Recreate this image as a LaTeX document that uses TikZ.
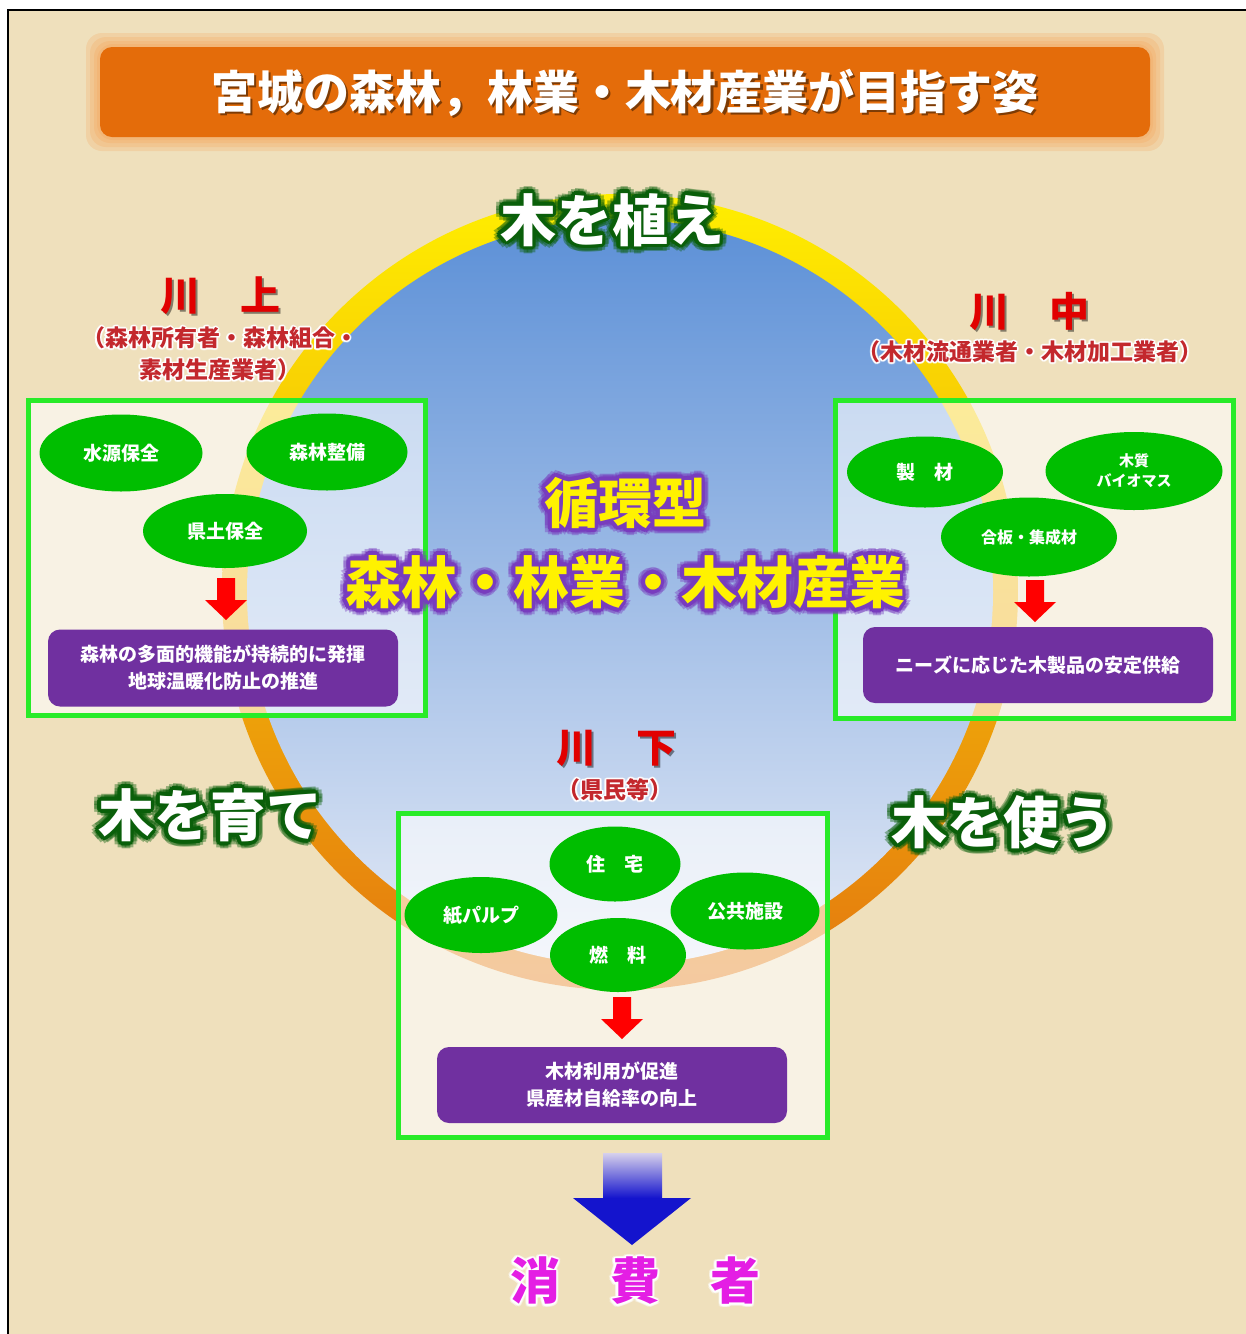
\documentclass[tikz,border=0pt]{standalone}
\usepackage{fontspec}
\newfontfamily\jpfont{Noto Sans CJK JP}
\usetikzlibrary{shapes.geometric,calc}

\definecolor{parchment}{RGB}{239,224,188}
\definecolor{titleorange}{RGB}{228,108,10}
\definecolor{titleglow}{RGB}{246,160,80}
\definecolor{ringyellow}{RGB}{255,238,0}
\definecolor{ringgold}{RGB}{246,182,20}
\definecolor{ringorange}{RGB}{228,120,15}
\definecolor{skytop}{RGB}{92,144,215}
\definecolor{skymid}{RGB}{165,190,230}
\definecolor{skybottom}{RGB}{228,234,246}
\definecolor{leafgreen}{RGB}{0,190,0}
\definecolor{zonegreen}{RGB}{40,235,40}
\definecolor{goalpurple}{RGB}{112,48,160}
\definecolor{riverred}{RGB}{225,0,0}
\definecolor{subred}{RGB}{195,40,45}
\definecolor{glowgreen}{RGB}{10,95,10}
\definecolor{glowpurple}{RGB}{120,60,190}
\definecolor{flowblue}{RGB}{20,20,205}
\definecolor{flowfade}{RGB}{214,208,236}
\definecolor{consumer}{RGB}{228,30,228}

\newcommand\jpsize[2]{\jpfont\bfseries\fontsize{#1}{#2}\selectfont}

\tikzset{
  bubble/.style={ellipse, fill=leafgreen, text=white, inner sep=0pt,
    font=\jpsize{19}{22}, align=center},
  goal/.style={rounded corners=12pt, fill=goalpurple, text=white, align=center,
    inner sep=0pt, font=\jpsize{19}{27}},
  zone/.style={draw=zonegreen, line width=5pt, fill=white, fill opacity=0.6},
  glowcopy/.style={inner sep=0pt, align=center},
  redarrow/.pic={\fill[red] (-9,0) -- (9,0) -- (9,22) -- (21,22) -- (0,42)
    -- (-21,22) -- (-9,22) -- cycle;}
}

% name, position, glow colour, glow radius, text colour, font, text
\newcommand\glowtext[7]{%
  \foreach \a in {0,30,...,330}
    \node[glowcopy, font=#6, text=#3, text opacity=0.4] at ($(#2)+(\a:#4)$) {#7};
  \foreach \a in {15,45,...,345}
    \node[glowcopy, font=#6, text=#3] at ($(#2)+(\a:#4*0.55)$) {#7};
  \node[glowcopy, font=#6, text=#5] (#1) at (#2) {#7};}

% name, position, text colour, font, text
\newcommand\shadowtext[5]{%
  \node[glowcopy, font=#4, text=black, text opacity=0.45] at ($(#2)+(2,2)$) {#5};
  \node[glowcopy, font=#4, text=#3] (#1) at (#2) {#5};}

\begin{document}
\begin{tikzpicture}[x=1pt, y=-1pt]
  \useasboundingbox (0,0) rectangle (1246,1334);
  \fill[white] (0,0) rectangle (1246,1334);
  \fill[parchment] (8,10) rectangle (1246,1334);
  \draw[line width=2pt] (8,1334) -- (8,10) -- (1246,10);

  % title bar
  \foreach \g in {14,10,6,3}
    \fill[titleglow, opacity=0.22, rounded corners=16pt]
      (100-\g,47-\g) rectangle (1150+\g,137+\g);
  \fill[titleorange, rounded corners=12pt] (100,47) rectangle (1150,137);
  \shadowtext{title}{625,93}{white}{\jpsize{46}{46}}{宮城の森林，林業・木材産業が目指す姿}

  % the cycle
  \shade[top color=ringyellow, middle color=ringgold, bottom color=ringorange]
    (620,592) circle (398pt);
  \shade[top color=skytop, middle color=skymid, bottom color=skybottom]
    (620,592) circle (373pt);

  \glowtext{plant}{612,220}{glowgreen}{7pt}{white}{\jpsize{56}{56}}{木を植え}
  \glowtext{grow}{210,815}{glowgreen}{7pt}{white}{\jpsize{56}{56}}{木を育て}
  \glowtext{use}{1003,822}{glowgreen}{7pt}{white}{\jpsize{56}{56}}{木を使う}

  % river heads
  \shadowtext{upper}{220,296}{riverred}{\jpsize{40}{40}}{川　上}
  \glowtext{uppersub}{220,354}{white}{2pt}{subred}{\jpsize{23}{32}}{（森林所有者・森林組合・\\素材生産業者）}
  \shadowtext{middle}{1029,311}{riverred}{\jpsize{40}{40}}{川　中}
  \glowtext{middlesub}{1030,352}{white}{2pt}{subred}{\jpsize{23}{32}}{（木材流通業者・木材加工業者）}
  \shadowtext{lower}{616,748}{riverred}{\jpsize{40}{40}}{川　下}
  \glowtext{lowersub}{615,790}{white}{2pt}{subred}{\jpsize{23}{32}}{（県民等）}

  % upstream
  \draw[zone] (28,400) rectangle (425,715);
  \node[bubble, minimum width=163pt, minimum height=77pt] (water) at (121,453) {水源保全};
  \node[bubble, minimum width=161pt, minimum height=77pt] (forestcare) at (327,452) {森林整備};
  \node[bubble, minimum width=164pt, minimum height=74pt] (landcare) at (225,531) {県土保全};
  \pic at (226,578) {redarrow};
  \node[goal, minimum width=350pt, minimum height=77pt] (goalup) at (223,668)
    {森林の多面的機能が持続的に発揮\\地球温暖化防止の推進};

  % midstream
  \draw[zone] (835,400) rectangle (1233,718);
  \node[bubble, minimum width=156pt, minimum height=71pt] (sawmill) at (925,472) {製　材};
  \node[bubble, minimum width=177pt, minimum height=78pt, font=\jpsize{15}{20}]
    (biomass) at (1134,471) {木質\\バイオマス};
  \node[bubble, minimum width=176pt, minimum height=79pt, font=\jpsize{16}{20}]
    (plywood) at (1029,537) {合板・集成材};
  \pic at (1035,580) {redarrow};
  \node[goal, minimum width=350pt, minimum height=76pt] (goalmid) at (1038,665)
    {ニーズに応じた木製品の安定供給};

  % downstream
  \draw[zone] (398,813) rectangle (827,1137);
  \node[bubble, minimum width=131pt, minimum height=75pt] (housing) at (615,864) {住　宅};
  \node[bubble, minimum width=153pt, minimum height=76pt] (pulp) at (481,915) {紙パルプ};
  \node[bubble, minimum width=149pt, minimum height=77pt] (public) at (745,911) {公共施設};
  \node[bubble, minimum width=136pt, minimum height=74pt] (fuel) at (618,955) {燃　料};
  \pic at (622,997) {redarrow};
  \node[goal, minimum width=350pt, minimum height=76pt] (goaldown) at (612,1085)
    {木材利用が促進\\県産材自給率の向上};

  % centre
  \glowtext{cycle}{625,503}{glowpurple}{7pt}{yellow}{\jpsize{54}{54}}{循環型}
  \glowtext{industry}{625,582}{glowpurple}{7pt}{yellow}{\jpsize{56}{56}}{森林・林業・木材産業}

  % to the consumers
  \shade[top color=flowfade, bottom color=flowblue] (603,1153) rectangle (662,1198);
  \fill[flowblue] (573,1198) -- (691,1198) -- (632,1245) -- cycle;
  \glowtext{consumers}{635,1281}{white}{2.5pt}{consumer}{\jpsize{50}{50}}{消　費　者}
\end{tikzpicture}
\end{document}
